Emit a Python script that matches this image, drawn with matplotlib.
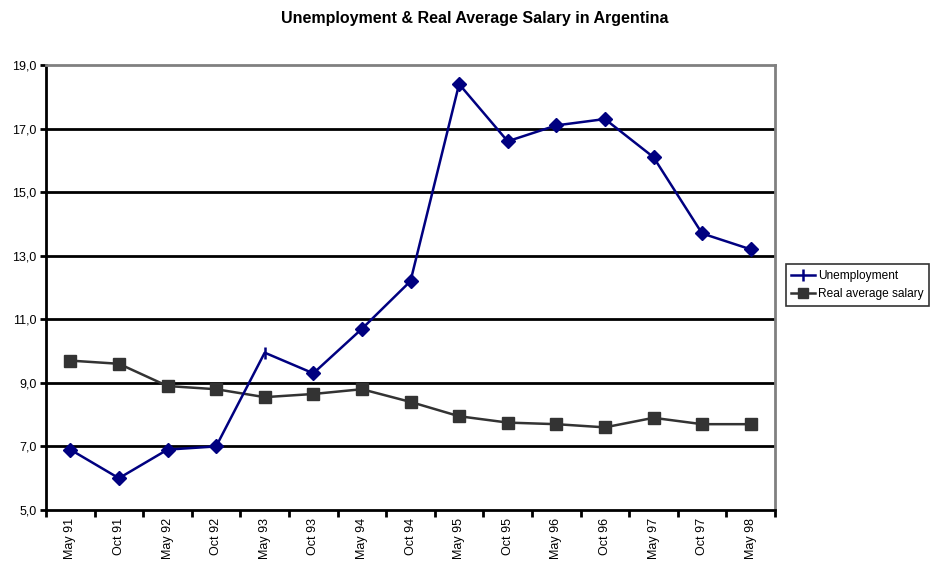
import matplotlib
matplotlib.use("Agg")
import matplotlib.pyplot as plt
from matplotlib.lines import Line2D
import numpy as np

plt.rcParams["font.family"] = ["Liberation Sans", "DejaVu Sans"]

periods = ["May 91", "Oct 91", "May 92", "Oct 92", "May 93", "Oct 93", "May 94", "Oct 94",
           "May 95", "Oct 95", "May 96", "Oct 96", "May 97", "Oct 97", "May 98"]
unemployment = [6.9, 6.0, 6.9, 7.0, 9.95, 9.3, 10.7, 12.2, 18.4, 16.6, 17.1, 17.3, 16.1, 13.7, 13.2]
salary = [9.7, 9.6, 8.9, 8.8, 8.55, 8.65, 8.8, 8.4, 7.95, 7.75, 7.7, 7.6, 7.9, 7.7, 7.7]
yticks = [5, 7, 9, 11, 13, 15, 17, 19]

navy = "#000080"
dark = "#333333"

fig = plt.figure(figsize=(9.33, 5.61), dpi=100)
ax = fig.add_axes([46 / 933, 51 / 561, 729 / 933, 445 / 561])

x = np.arange(len(periods)) + 0.5

# gridlines
for yv in yticks[1:-1]:
    ax.axhline(yv, color="black", lw=2, zorder=1)

ax.plot(x, salary, color=dark, lw=1.8, marker="s", ms=9, mfc=dark, mec=dark, zorder=3)

# unemployment: diamonds except the May 93 point drawn as tick marker
diam_idx = [i for i in range(len(x)) if periods[i] != "May 93"]
ax.plot(x, unemployment, color=navy, lw=1.8, zorder=4)
ax.plot(x[diam_idx], np.array(unemployment)[diam_idx], ls="none", marker="D", ms=7,
        mfc=navy, mec=navy, zorder=5)
ax.plot(x[4], unemployment[4], ls="none", marker="|", ms=9, mew=1.8, color=navy, zorder=5)

ax.set_xlim(0, len(periods))
ax.set_ylim(5, 19)
ax.set_yticks(yticks)
ax.set_yticklabels([f"{v:.1f}".replace(".", ",") for v in yticks], fontsize=9)
ax.set_xticks(np.arange(len(periods) + 1))
ax.set_xticklabels([])
ax.set_xticks(x, minor=True)
ax.set_xticklabels(periods, minor=True, rotation=90, fontsize=9)
ax.tick_params(axis="x", which="minor", length=0, pad=6)
ax.tick_params(axis="x", which="major", length=5, width=2, direction="out")
ax.tick_params(axis="y", length=4, width=2, direction="out", pad=3)

ax.spines["left"].set_linewidth(2)
ax.spines["bottom"].set_linewidth(2)
ax.spines["top"].set_color("#808080")
ax.spines["top"].set_linewidth(2)
ax.spines["right"].set_color("#808080")
ax.spines["right"].set_linewidth(2)

fig.text(475 / 933, 1 - 18 / 561, "Unemployment & Real Average Salary in Argentina",
         ha="center", va="center", fontsize=11.5, fontweight="bold")

handles = [
    Line2D([], [], color=navy, lw=1.8, marker="|", ms=8, mew=1.8),
    Line2D([], [], color=dark, lw=1.8, marker="s", ms=7),
]
leg = fig.legend(handles, ["Unemployment", "Real average salary"],
                 loc="center left", bbox_to_anchor=(786 / 933, 1 - 285 / 561),
                 fontsize=8.6, frameon=True, fancybox=False, handlelength=2.0,
                 handletextpad=0.25, borderpad=0.45, labelspacing=0.55, borderaxespad=0)
leg.get_frame().set_edgecolor("black")
leg.get_frame().set_linewidth(1.2)

fig.savefig("out.png", dpi=100)
